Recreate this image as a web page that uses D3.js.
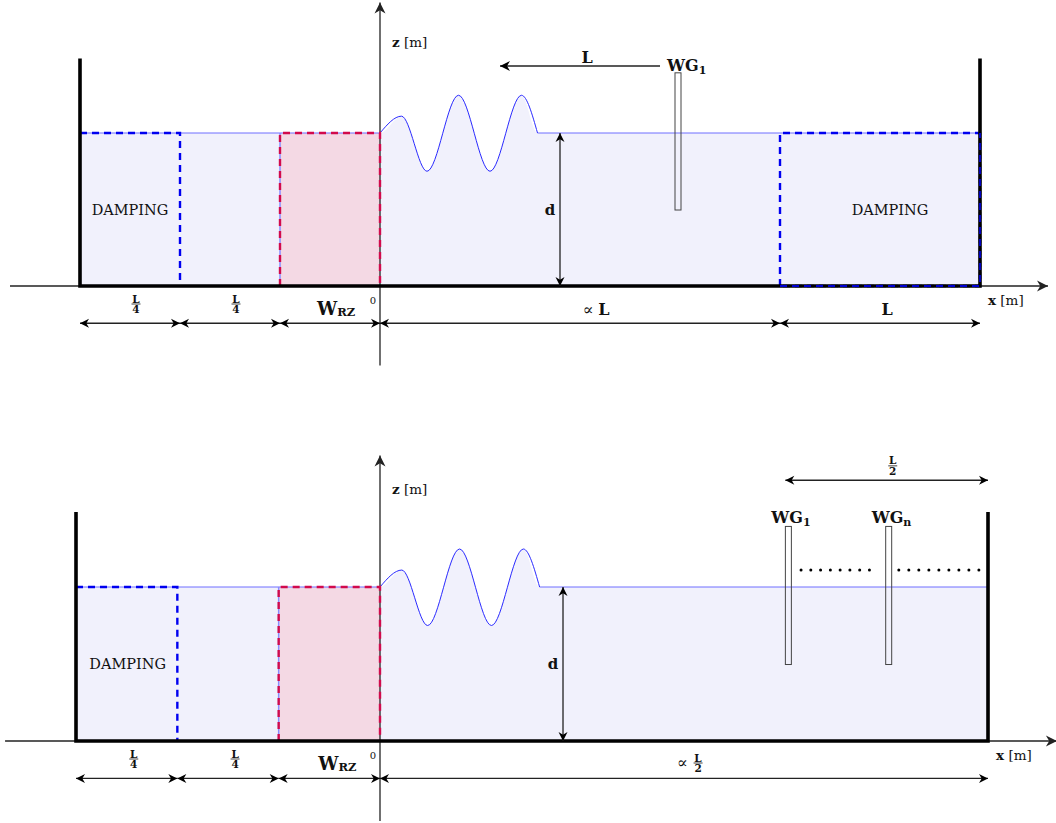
<!DOCTYPE html>
<html>
<head>
<meta charset="utf-8">
<script src="https://cdn.jsdelivr.net/npm/d3@7"></script>
<style>
  body { margin: 0; background: #fff; }
  svg text { font-family: "DejaVu Serif", "Liberation Serif", serif; fill: #111; }
</style>
</head>
<body>
<svg id="fig" width="1056" height="823"></svg>
<script>
// units: x in L/4 (0 = end of relaxation zone), z in units where still depth d = 1.5
const depth = 1.5;
const wallTop = 2.23;
const waveX = [0, 0.215, 0.47, 0.785, 1.10, 1.415, 1.575];
const waveEta = [0, 0.165, -0.375, 0.37, -0.375, 0.37, 0];
const relaxZone = [-1, 0];

const topEdges = [-3, -2, -1, 0, 4, 6];
const topDimLabels = ["L/4", "L/4", "WRZ", "∝L", "L"];
const topDimLabelX = [-2.44, -1.44, -0.44, 2.16, 5.07];
const topDampZones = [[-3, -2], [4, 6]];
const topDampLabelX = [-2.5, 5.1];
const topGaugeX = [2.98];
const topGaugeSub = ["1"];

const botEdges = [-3, -2, -1, 0, 6];
const botDimLabels = ["L/4", "L/4", "WRZ", "∝L/2"];
const botDimLabelX = [-2.43, -1.43, -0.42, 3.05];
const botDampZones = [[-3, -2]];
const botDampLabelX = [-2.49];
const botGaugeX = [4.03, 5.02];
const botGaugeSub = ["1", "n"];
const botDotRuns = [[4.155, 4.83, 8], [5.12, 5.91, 9]];

const gaugeZ = [0.745, 2.09];

const panels = [
  { xr: [80, 980], zr: [286, 133], edges: topEdges, labels: topDimLabels, labelX: topDimLabelX,
    damp: topDampZones, dampX: topDampLabelX, gauges: topGaugeX, gaugeSub: topGaugeSub,
    dArrowX: 1.8, fullRightDamp: true, wgDx: -11, wgDy: -2 },
  { xr: [76, 988], zr: [741, 587], edges: botEdges, labels: botDimLabels, labelX: botDimLabelX,
    damp: botDampZones, dampX: botDampLabelX, gauges: botGaugeX, gaugeSub: botGaugeSub,
    dArrowX: 1.806, dots: botDotRuns, wgDx: -17, wgDy: -3 }
];

const svg = d3.select("#fig");

function head(g, x, y, ang, s, col) {
  s = s || 8;
  g.append("path")
    .attr("d", `M0,0 L${-s},${-s * 0.5} L${-s * 0.7},0 L${-s},${s * 0.5} Z`)
    .attr("transform", `translate(${x},${y}) rotate(${ang})`)
    .attr("fill", col || "#000");
}

function arrow(g, x1, y1, x2, y2, both, s) {
  g.append("line").attr("x1", x1).attr("y1", y1).attr("x2", x2).attr("y2", y2)
    .attr("stroke", "#222").attr("stroke-width", 1.3);
  const a = Math.atan2(y2 - y1, x2 - x1) * 180 / Math.PI;
  head(g, x2, y2, a, s);
  if (both) head(g, x1, y1, a + 180, s);
}

function frac(g, x, yLine, num, den, fs) {
  g.append("text").attr("x", x).attr("y", yLine - 1.5).attr("text-anchor", "middle")
    .attr("font-size", fs).attr("font-weight", "bold").text(num);
  g.append("line").attr("x1", x - 4.5).attr("x2", x + 4.5).attr("y1", yLine).attr("y2", yLine)
    .attr("stroke", "#111").attr("stroke-width", 0.8);
  g.append("text").attr("x", x).attr("y", yLine + fs * 0.75 + 1.5).attr("text-anchor", "middle")
    .attr("font-size", fs).attr("font-weight", "bold").text(den);
}

panels.forEach((p, pi) => {
  const g = svg.append("g");
  const x = d3.scaleLinear().domain([-3, 6]).range(p.xr);
  const z = d3.scaleLinear().domain([0, depth]).range(p.zr);
  const x0 = p.edges[0], x1 = p.edges[p.edges.length - 1];

  // free surface: still level, wave train, still level
  const surf = [[x0, depth]]
    .concat(waveX.map((v, i) => [v, depth + waveEta[i]]))
    .concat([[x1, depth]]);
  const area = d3.area().x(d => x(d[0])).y0(z(0)).y1(d => z(d[1])).curve(d3.curveMonotoneX);
  g.append("path").attr("d", area(surf)).attr("fill", "#f1f1fc");

  // relaxation zone fill
  g.append("rect").attr("x", x(relaxZone[0])).attr("y", z(depth))
    .attr("width", x(relaxZone[1]) - x(relaxZone[0])).attr("height", z(0) - z(depth))
    .attr("fill", "#f4d9e4");

  // still water line and wave
  g.append("line").attr("x1", x(x0)).attr("x2", x(0)).attr("y1", z(depth)).attr("y2", z(depth))
    .attr("stroke", "#6f6fff").attr("stroke-width", 1);
  g.append("line").attr("x1", x(waveX[waveX.length - 1])).attr("x2", x(x1))
    .attr("y1", z(depth)).attr("y2", z(depth))
    .attr("stroke", "#6f6fff").attr("stroke-width", 1);
  g.append("line").attr("x1", x(relaxZone[0])).attr("x2", x(relaxZone[0]))
    .attr("y1", z(depth)).attr("y2", z(0)).attr("stroke", "#8a8aff").attr("stroke-width", 1.5);
  const line = d3.line().x(d => x(d[0])).y(d => z(d[1])).curve(d3.curveMonotoneX);
  g.append("path").attr("d", line(surf.slice(1, surf.length - 1)))
    .attr("fill", "none").attr("stroke", "#2a2aff").attr("stroke-width", 1);

  // axes
  const axCol = "#222";
  g.append("line").attr("x1", x(-3.7)).attr("x2", x(6.68)).attr("y1", z(0)).attr("y2", z(0))
    .attr("stroke", axCol).attr("stroke-width", 1.3);
  head(g, x(6.68), z(0), 0, 11, axCol);
  g.append("line").attr("x1", x(0)).attr("x2", x(0)).attr("y1", z(-0.78)).attr("y2", z(2.78))
    .attr("stroke", axCol).attr("stroke-width", 1.3);
  head(g, x(0), z(2.78), -90, 11, axCol);

  // damping zones (blue dashed)
  const dashB = { stroke: "#0000f0", "stroke-width": 2.4, "stroke-dasharray": "7,5", fill: "none" };
  p.damp.forEach((d, i) => {
    const pts = i === 0
      ? [[d[0], depth], [d[1], depth], [d[1], 0]]
      : [[d[0], 0], [d[0], depth], [d[1], depth], [d[1], 0], [d[0], 0]];
    const path = g.append("path").attr("d", d3.line().x(q => x(q[0])).y(q => z(q[1]))(pts));
    Object.entries(dashB).forEach(([k, v]) => path.attr(k, v));
  });

  // relaxation zone (red dashed)
  g.append("path")
    .attr("d", d3.line().x(q => x(q[0])).y(q => z(q[1]))(
      [[relaxZone[0], 0], [relaxZone[0], depth], [relaxZone[1], depth], [relaxZone[1], 0]]))
    .attr("fill", "none").attr("stroke", "#d10a4c").attr("stroke-width", 2.4)
    .attr("stroke-dasharray", "7,5");

  // tank walls and floor
  const tank = d3.line().x(q => x(q[0])).y(q => z(q[1]))(
    [[x0, wallTop], [x0, 0], [x1, 0], [x1, wallTop]]);
  g.append("path").attr("d", tank).attr("fill", "none").attr("stroke", "#000")
    .attr("stroke-width", 3.6).attr("stroke-linejoin", "miter");
  if (p.fullRightDamp) {
    const d = p.damp[1];
    g.append("path")
      .attr("d", d3.line().x(q => x(q[0])).y(q => z(q[1]))([[d[0], 0], [d[1], 0], [d[1], depth]]))
      .attr("fill", "none").attr("stroke", "#0000d0").attr("stroke-width", 1.8)
      .attr("stroke-dasharray", "7,5");
  }

  // axis labels
  const ax = g.append("text").attr("x", x(0) + 12).attr("y", z(0) - (pi ? 247 : 239))
    .attr("font-size", 13.5);
  ax.append("tspan").attr("font-weight", "bold").text("z");
  ax.append("tspan").text(" [m]");
  const xl = g.append("text").attr("x", x(6.08)).attr("y", z(0) + 19).attr("font-size", 13.5);
  xl.append("tspan").attr("font-weight", "bold").text("x");
  xl.append("tspan").text(" [m]");
  g.append("text").attr("x", x(0) - 7).attr("y", z(0) + 18).attr("text-anchor", "middle")
    .attr("font-size", 10).text("0");

  // damping labels
  p.dampX.forEach(v => {
    g.append("text").attr("x", x(v)).attr("y", z(0.70)).attr("text-anchor", "middle")
      .attr("font-size", 14.5).text("DAMPING");
  });

  // depth arrow
  arrow(g, x(p.dArrowX), z(0), x(p.dArrowX), z(depth), true, 9);
  g.append("text").attr("x", x(p.dArrowX) - 10).attr("y", z(0.70)).attr("text-anchor", "middle")
    .attr("font-size", 15).attr("font-weight", "bold").text("d");

  // dimension arrows below the tank
  const yDim = z(-0.365);
  for (let i = 0; i < p.edges.length - 1; i++) {
    arrow(g, x(p.edges[i]), yDim, x(p.edges[i + 1]), yDim, true, 9);
    const lx = x(p.labelX[i]);
    const lab = p.labels[i];
    if (lab === "L/4") {
      frac(g, lx, z(0) + 18, "L", "4", 10.5);
    } else if (lab === "WRZ") {
      const t = g.append("text").attr("x", lx).attr("y", z(0) + 29).attr("text-anchor", "middle")
        .attr("font-weight", "bold");
      t.append("tspan").attr("font-size", 18).text("W");
      t.append("tspan").attr("font-size", 11.5).attr("dy", 1).text("RZ");
    } else if (lab === "∝L") {
      const t = g.append("text").attr("x", lx).attr("y", z(0) + 29).attr("text-anchor", "middle")
        .attr("font-size", 16);
      t.append("tspan").text("∝ ");
      t.append("tspan").attr("font-weight", "bold").text("L");
    } else if (lab === "∝L/2") {
      g.append("text").attr("x", lx - 7).attr("y", z(0) + 27).attr("text-anchor", "middle")
        .attr("font-size", 16).text("∝");
      frac(g, lx + 9, z(0) + 22, "L", "2", 10.5);
    } else {
      g.append("text").attr("x", lx).attr("y", z(0) + 29).attr("text-anchor", "middle")
        .attr("font-size", 16).attr("font-weight", "bold").text(lab);
    }
  }

  // wave gauges
  p.gauges.forEach((gx, i) => {
    g.append("rect").attr("x", x(gx) - 3).attr("y", z(gaugeZ[1]))
      .attr("width", 6).attr("height", z(gaugeZ[0]) - z(gaugeZ[1]))
      .attr("fill", "none").attr("stroke", "#444").attr("stroke-width", 1);
    const t = g.append("text").attr("x", x(gx) + p.wgDx).attr("y", z(gaugeZ[1]) + p.wgDy)
      .attr("font-weight", "bold");
    t.append("tspan").attr("font-size", 16).text("WG");
    t.append("tspan").attr("font-size", 11).attr("dy", 3).text(p.gaugeSub[i]);
  });

  if (pi === 0) {
    // wavelength arrow above the tank
    arrow(g, x(2.8), z(2.157), x(1.2), z(2.157), false, 10);
    g.append("text").attr("x", x(2.07)).attr("y", z(2.157) - 3).attr("text-anchor", "middle")
      .attr("font-size", 16).attr("font-weight", "bold").text("L");
  } else {
    arrow(g, x(4.0), z(2.54), x(6.0), z(2.54), true, 9);
    frac(g, x(5.06), z(2.68), "L", "2", 10.5);
    p.dots.forEach(r => {
      const xs = d3.range(r[2]).map(k => r[0] + (r[1] - r[0]) * k / (r[2] - 1));
      g.selectAll(null).data(xs).join("circle")
        .attr("cx", d => x(d)).attr("cy", z(1.665)).attr("r", 1.5).attr("fill", "#000");
    });
  }
});
</script>
</body>
</html>
